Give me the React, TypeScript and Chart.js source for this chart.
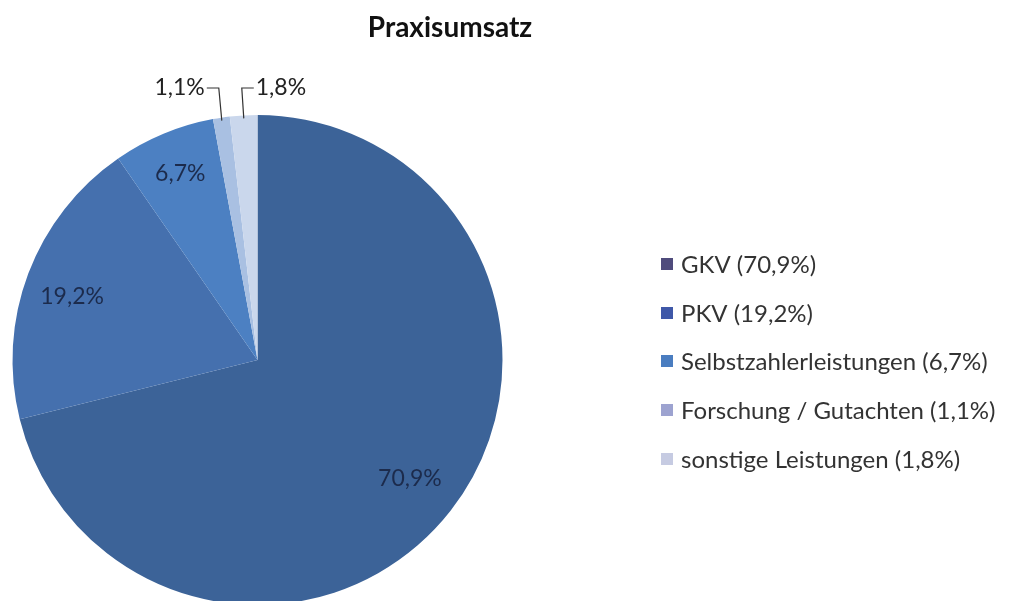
import React, { useEffect, useRef } from "react";
import { Chart, registerables } from "chart.js";

Chart.register(...registerables);

const title = "Praxisumsatz";
const categories = ["GKV", "PKV", "Selbstzahlerleistungen", "Forschung / Gutachten", "sonstige Leistungen"];
const values = [70.9, 19.2, 6.7, 1.1, 1.8];
const sliceColors = ["#3C6398", "#4570AE", "#4C80C2", "#A9C0E2", "#CAD7EC"];
const legendColors = ["#4F4B7C", "#3F58A8", "#4A7DC0", "#9DA3D0", "#C6CBE2"];

const fmt = (v: number) => v.toFixed(1).replace(".", ",") + "%";

export default function App() {
  const ref = useRef<HTMLCanvasElement | null>(null);
  useEffect(() => {
    if (!ref.current) return;
    const FONT = "Lato, 'Open Sans', sans-serif";
    const overlay = {
      id: "overlay",
      afterDraw(chart: any) {
        const ctx = chart.ctx as CanvasRenderingContext2D;
        const meta = chart.getDatasetMeta(0);
        ctx.save();
        // title
        ctx.fillStyle = "#111";
        ctx.font = `bold 28px ${FONT}`;
        ctx.textAlign = "center";
        ctx.textBaseline = "middle";
        ctx.fillText(title, 450, 28);

        // slice labels
        ctx.font = `23px ${FONT}`;
        meta.data.forEach((arc: any, i: number) => {
          const { x, y, startAngle, endAngle, outerRadius } = arc.getProps(
            ["x", "y", "startAngle", "endAngle", "outerRadius"],
            true
          );
          const mid = (startAngle + endAngle) / 2;
          const label = fmt(values[i]);
          if (values[i] > 5) {
            const r = outerRadius * (i === 1 ? 0.8 : 0.8);
            ctx.fillStyle = "#1C2B4C";
            ctx.textAlign = "center";
            ctx.textBaseline = "middle";
            const dy = i === 1 ? 6 : i === 2 ? -5 : -2;
            ctx.fillText(label, x + Math.cos(mid) * r - 2, y + Math.sin(mid) * r + dy);
          } else {
            const ex = x + Math.cos(mid) * (outerRadius - 3);
            const ey = y + Math.sin(mid) * (outerRadius - 3);
            const ly = 88;
            const left = i === 3;
            const kx = ex + (left ? -3 : -2);
            ctx.strokeStyle = "#333";
            ctx.lineWidth = 1.2;
            ctx.beginPath();
            ctx.moveTo(ex, ey);
            ctx.lineTo(kx, ly);
            ctx.lineTo(left ? kx - 12 : kx + 12, ly);
            ctx.stroke();
            ctx.fillStyle = "#222";
            ctx.textBaseline = "middle";
            ctx.textAlign = left ? "right" : "left";
            ctx.fillText(label, left ? kx - 14 : kx + 14, ly);
          }
        });

        // legend
        const rows = [264, 313, 361, 410, 459];
        ctx.font = `24px ${FONT}`;
        ctx.textAlign = "left";
        ctx.textBaseline = "middle";
        categories.forEach((c, i) => {
          ctx.fillStyle = legendColors[i];
          ctx.fillRect(661, rows[i] - 6, 12, 12);
          ctx.fillStyle = "#333";
          ctx.fillText(`${c} (${fmt(values[i])})`, 681, rows[i] + 1);
        });
        ctx.restore();
      },
    };
    const chart = new Chart(ref.current, {
      type: "pie",
      data: {
        labels: categories,
        datasets: [
          {
            data: values,
            backgroundColor: sliceColors,
            borderWidth: 0,
            radius: 245,
          },
        ],
      },
      options: {
        animation: false,
        responsive: false,
        layout: { padding: { left: 12, right: 507, top: 119, bottom: 0 } },
        plugins: {
          legend: { display: false },
          title: { display: false },
          tooltip: { enabled: false },
        },
      },
      plugins: [overlay],
    });
    return () => chart.destroy();
  }, []);
  return (
    <div style={{ position: "fixed", left: 0, top: 0, width: 1010, height: 601, background: "#fff" }}>
      <canvas ref={ref} width={1010} height={601} style={{ display: "block" }} />
    </div>
  );
}
